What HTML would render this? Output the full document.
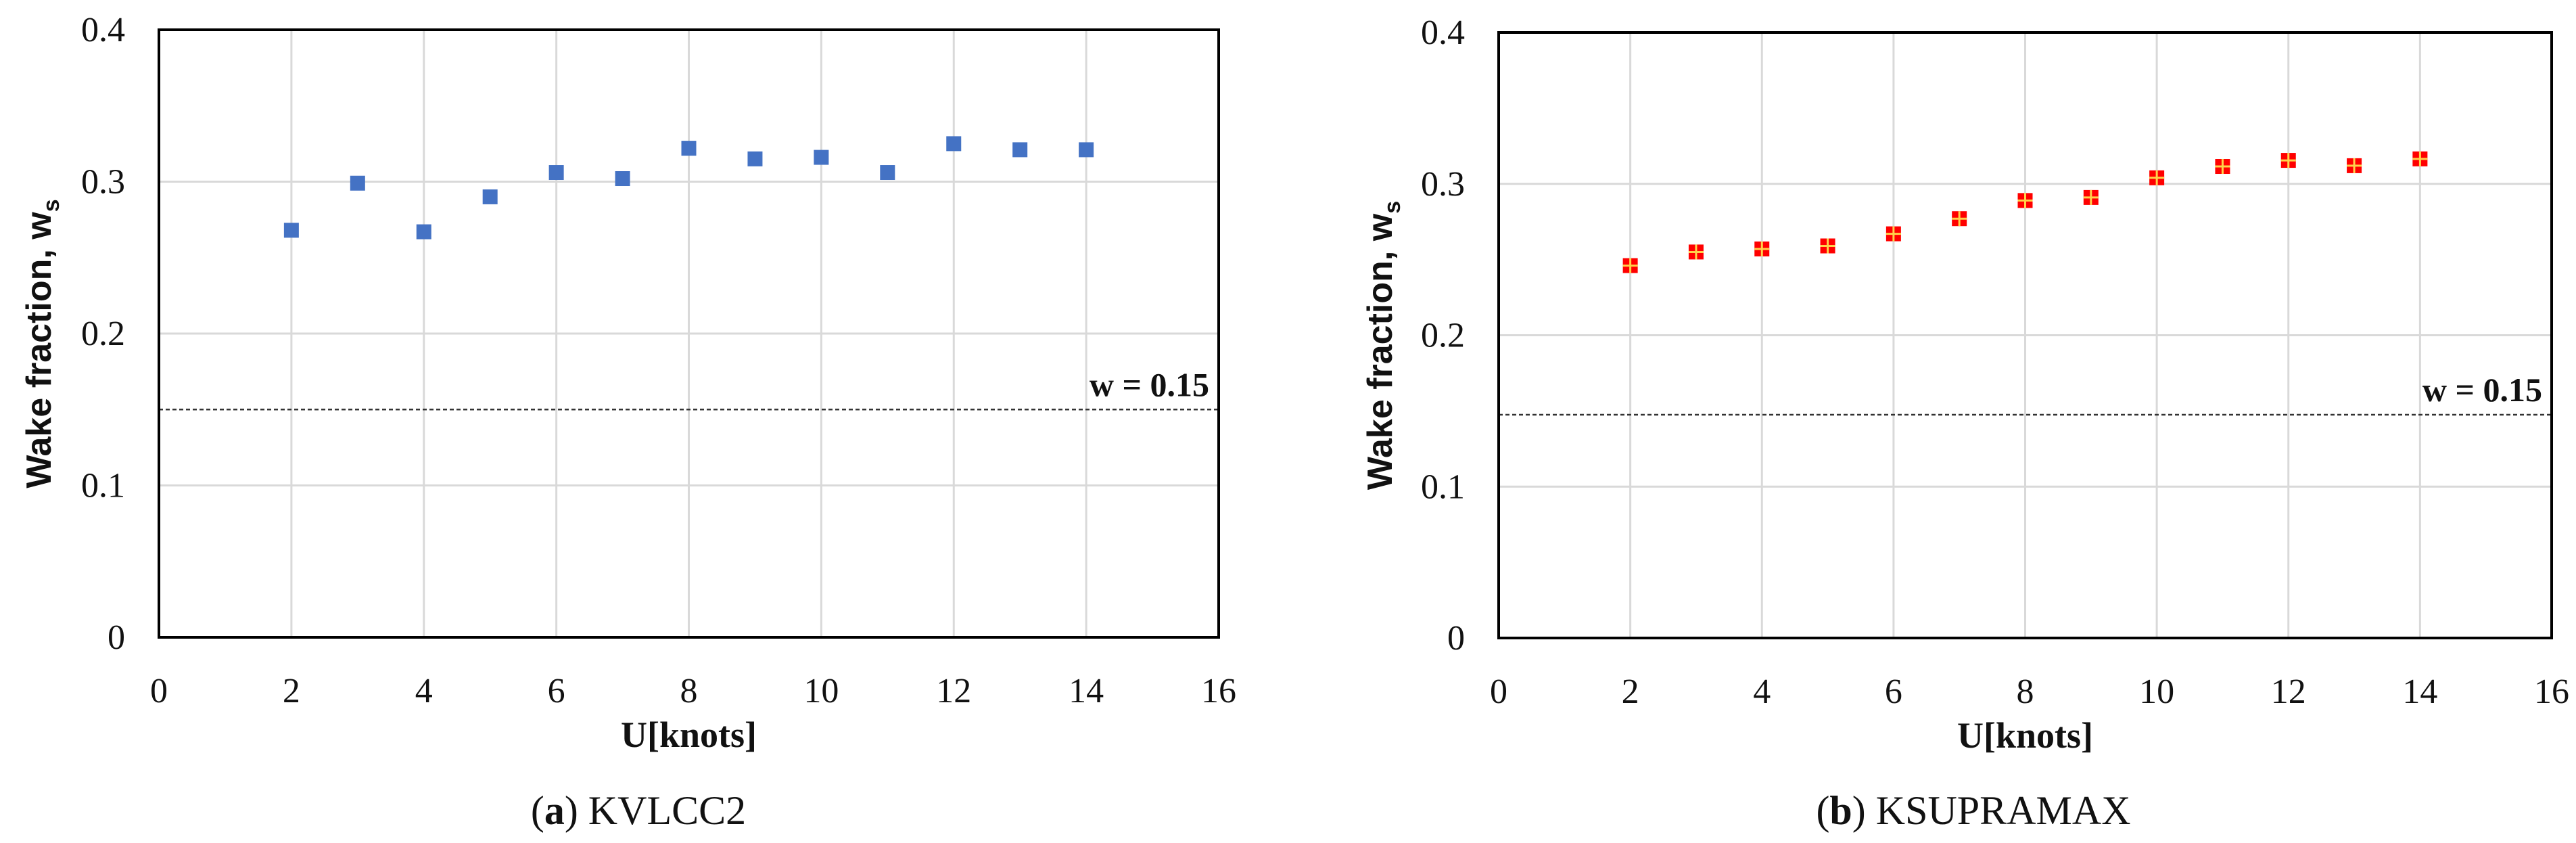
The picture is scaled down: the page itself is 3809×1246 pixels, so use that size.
<!DOCTYPE html>
<html><head><meta charset="utf-8">
<style>
html,body{margin:0;padding:0;background:#fff;}
svg{display:block;}
text{font-family:"Liberation Serif",serif;fill:#111;}
</style></head>
<body>
<svg id="fig" width="3809" height="1246" viewBox="0 0 3809 1246" xmlns="http://www.w3.org/2000/svg"></svg>
<script>
const xTicks = [0,2,4,6,8,10,12,14,16];
const yTicks = [0,0.1,0.2,0.3,0.4];
const yTickLabels = ["0","0.1","0.2","0.3","0.4"];
const speeds = [2,3,4,5,6,7,8,9,10,11,12,13,14];
const kvlccWake = [0.268,0.299,0.267,0.290,0.306,0.302,0.322,0.315,0.316,0.306,0.325,0.321,0.321];
const ksupWake = [0.246,0.255,0.257,0.259,0.267,0.277,0.289,0.291,0.304,0.3115,0.3155,0.312,0.3165];
const refWake = 0.15;
const refWakeB = 0.1475;
const refLabel = "w = 0.15";

const NS="http://www.w3.org/2000/svg";
const svg=document.getElementById('fig');
function mk(tag,attrs,parent){const e=document.createElementNS(NS,tag);for(const k in attrs)e.setAttribute(k,attrs[k]);(parent||svg).appendChild(e);return e;}

function panel(cfg){
  const g=mk('g',{});
  
  
  const L=cfg.left,R=cfg.right,T=cfg.top,B=cfg.bottom;
  const xs=v=>L+(v-0)/(16-0)*(R-L);
  const ys=v=>B-(v-0)/(0.4-0)*(B-T);
  xTicks.forEach(v=>{ if(v===0||v===16)return;
    const l=mk('line',{x1:xs(v),x2:xs(v),y1:T,y2:B,stroke:'#d9d9d9','stroke-width':3},g);
    
    
  });
  yTicks.forEach(v=>{ if(v===0||v===0.4)return;
    const l=mk('line',{x1:L,x2:R,y1:ys(v),y2:ys(v),stroke:'#d9d9d9','stroke-width':3},g);
    
    
  });
  const rl=mk('line',{x1:L,x2:R,y1:ys(cfg.ref),y2:ys(cfg.ref),stroke:'#333','stroke-width':2.5,'stroke-dasharray':'6,4'},g);
  
  
  const rt=mk('text',{x:R-14,y:ys(cfg.ref)-20,'text-anchor':'end','font-size':50,'font-weight':'bold'},g);
  rt.textContent=refLabel;
  
  
  const fr=mk('rect',{x:L,y:T,width:R-L,height:B-T,fill:'none',stroke:'#000','stroke-width':4},g);
  
  
  xTicks.forEach(v=>{
    const t=mk('text',{x:xs(v),y:B+96,'text-anchor':'middle','font-size':52},g);
    t.textContent=String(v);
    
    
  });
  yTicks.forEach((v,i)=>{
    const t=mk('text',{x:L-50,y:ys(v)+17,'text-anchor':'end','font-size':52},g);
    t.textContent=yTickLabels[i];
    
    
  });
  const xt=mk('text',{x:(L+R)/2,y:B+162,'text-anchor':'middle','font-size':54,'font-weight':'bold'},g);
  xt.textContent='U[knots]';
  
  
  const yt=mk('text',{x:0,y:0,'text-anchor':'middle','font-size':52,'font-weight':'bold','style':'font-family:"Liberation Sans",sans-serif','transform':`translate(${cfg.ytx},${(T+B)/2+15}) rotate(-90)`},g);
  yt.innerHTML='Wake fraction, w<tspan font-size="34" dy="12">s</tspan>';
  
  
  const cp=mk('text',{x:cfg.capx,y:1218,'text-anchor':'middle','font-size':60},g);
  cp.innerHTML='(<tspan font-weight="bold">'+cfg.letter+'</tspan>) '+cfg.caption;
  
  
  cfg.data.forEach((v,i)=>{
    const cx=xs(speeds[i]),cy=ys(v),s=22;
    const p=mk('rect',{x:cx-s/2,y:cy-s/2,width:s,height:s,fill:cfg.color},g);
    
    
    if(cfg.cross){
      mk('line',{x1:cx,x2:cx,y1:cy-s/2,y2:cy+s/2,stroke:'#ffd24a','stroke-width':3},g);
      mk('line',{x1:cx-s/2,x2:cx+s/2,y1:cy,y2:cy,stroke:'#ffd24a','stroke-width':3},g);
    }
  });
}
panel({name:'kvlcc2-chart',left:235,right:1802,top:44,bottom:942,data:kvlccWake,ref:refWake,color:'#4472c4',cross:false,ytx:75,capx:944,letter:'a',caption:'KVLCC2'});
panel({name:'ksupramax-chart',left:2216,right:3773,top:48,bottom:943,data:ksupWake,ref:refWakeB,color:'#ff0000',cross:true,ytx:2058,capx:2918,letter:'b',caption:'KSUPRAMAX'});
</script>
</body></html>
